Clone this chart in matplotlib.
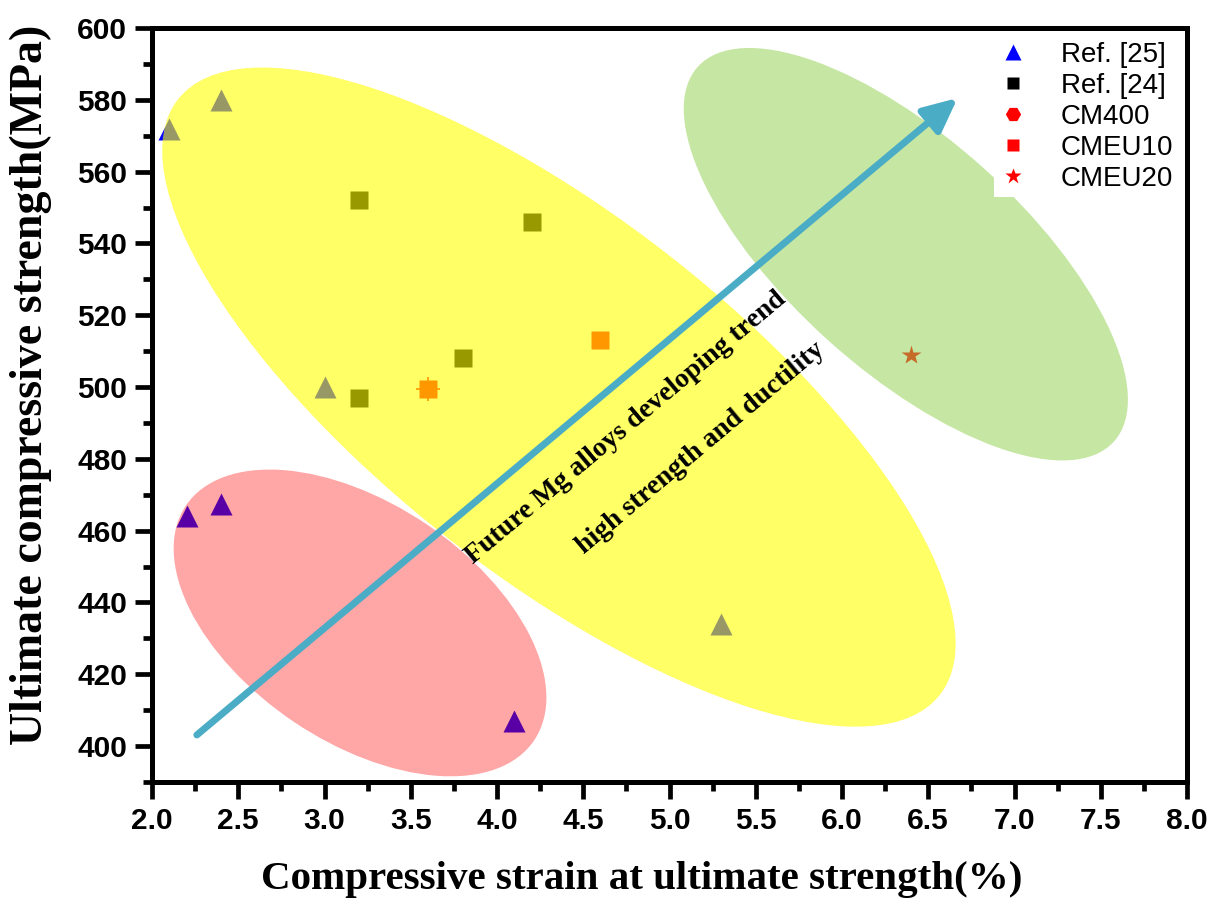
import matplotlib
matplotlib.use("Agg")
import matplotlib.pyplot as plt
from matplotlib.patches import Ellipse, FancyArrowPatch
from matplotlib.lines import Line2D
from matplotlib.transforms import IdentityTransform
from matplotlib.ticker import MultipleLocator

# ---- data ---------------------------------------------------------------
ref25_strain = [2.1, 2.4, 3.0, 5.3, 2.2, 2.4, 4.1]
ref25_ucs = [572, 580, 500, 434, 464, 467.5, 407]

ref24_strain = [3.2, 4.2, 3.8, 3.2]
ref24_ucs = [552, 546, 508, 497]

cm400_strain = [3.6]
cm400_ucs = [499.5]

cmeu10_strain = [4.6]
cmeu10_ucs = [513]

cmeu20_strain = [6.4]
cmeu20_ucs = [509]

xticks = [2.0, 2.5, 3.0, 3.5, 4.0, 4.5, 5.0, 5.5, 6.0, 6.5, 7.0, 7.5, 8.0]
yticks = [400, 420, 440, 460, 480, 500, 520, 540, 560, 580, 600]

# ---- figure ---------------------------------------------------------------
W, H, DPI = 1220, 899, 100
fig = plt.figure(figsize=(W / DPI, H / DPI), dpi=DPI)
ax = fig.add_axes([152 / W, 1 - 782 / H, (1187 - 152) / W, (782 - 28) / H])
ax.set_xlim(2.0, 8.0)
ax.set_ylim(390, 600)

sans = "Liberation Sans"
serif = "Liberation Serif"

# scatter points (drawn beneath the translucent group ellipses)
ax.plot(ref25_strain, ref25_ucs, ls="none", marker="^", ms=15.5, color="#0000FF",
        mec="none", zorder=2)
ax.plot(ref24_strain, ref24_ucs, ls="none", marker="s", ms=12.5, color="black",
        mec="none", zorder=2)
ax.plot(cm400_strain, cm400_ucs, ls="none", marker="s", ms=13, color="red",
        mec="none", zorder=2)
ax.plot(cm400_strain, cm400_ucs, ls="none", marker="+", ms=17, color="red",
        mew=1.2, zorder=2)
ax.plot(cmeu10_strain, cmeu10_ucs, ls="none", marker="s", ms=13, color="red",
        mec="none", zorder=2)
ax.plot(cmeu20_strain, cmeu20_ucs, ls="none", marker="*", ms=15, color="red",
        mec="none", zorder=2)

fig.canvas.draw()

# group ellipses: centre in data units, axes lengths in pixels, tilt in degrees
groups = [
    dict(center=(3.206, 434.3), width=420, height=238, angle=-34, color="#FF0000", alpha=0.35),
    dict(center=(4.359, 497.2), width=967, height=359, angle=-38, color="#FFFF00", alpha=0.6),
    dict(center=(6.37, 537.0), width=560, height=232, angle=-42, color="#92D050", alpha=0.52),
]
for g in groups:
    cx, cy = ax.transData.transform(g["center"])
    e = Ellipse((cx, cy), g["width"], g["height"], angle=g["angle"],
                transform=IdentityTransform(), facecolor=g["color"],
                edgecolor="none", alpha=g["alpha"], zorder=3)
    ax.add_artist(e)

# trend arrow
arrow = FancyArrowPatch((2.26, 403.1), (6.67, 580.5), transform=ax.transData,
                        arrowstyle="-|>,head_length=1.7,head_width=0.8",
                        mutation_scale=12, lw=5, color="#4BACC6", zorder=4,
                        shrinkA=0, shrinkB=0)
ax.add_patch(arrow)

ax.text(4.75, 488.6, "Future Mg alloys developing trend", rotation=40,
        rotation_mode="anchor", ha="center", va="center", family=serif,
        fontweight="bold", fontsize=20, zorder=5)
ax.text(5.18, 483.0, "high strength and ductility", rotation=40,
        rotation_mode="anchor", ha="center", va="center", family=serif,
        fontweight="bold", fontsize=20, zorder=5)

# axes styling
for sp in ax.spines.values():
    sp.set_linewidth(3.6)
    sp.set_color("black")
ax.set_xticks(xticks)
ax.set_yticks(yticks)
ax.xaxis.set_minor_locator(MultipleLocator(0.25))
ax.yaxis.set_minor_locator(MultipleLocator(10))
ax.tick_params(which="major", direction="out", length=12, width=3.4, pad=6,
               top=False, right=False)
ax.tick_params(which="minor", direction="out", length=6.5, width=3.4,
               top=False, right=False)
ax.set_xticklabels([f"{v:.1f}" for v in xticks])
ax.set_yticklabels([str(v) for v in yticks])
for lab in ax.get_xticklabels() + ax.get_yticklabels():
    lab.set_family(sans)
    lab.set_fontweight("bold")
    lab.set_fontsize(21.5)

ax.set_xlabel("Compressive strain at ultimate strength(%)", family=serif,
              fontweight="bold", fontsize=29.5, va="center")
ax.set_ylabel("Ultimate compressive strength(MPa)", family=serif,
              fontweight="bold", fontsize=33, va="center")
ax.xaxis.set_label_coords((642 - 152) / (1187 - 152), -(880 - 782) / (782 - 28))
ax.yaxis.set_label_coords(-(152 - 31) / (1187 - 152), (782 - 385) / (782 - 28))

# legend
handles = [
    Line2D([], [], ls="none", marker="^", ms=12, color="#0000FF", mec="none"),
    Line2D([], [], ls="none", marker="s", ms=8, color="black", mec="none"),
    Line2D([], [], ls="none", marker="H", ms=11, color="red", mec="none"),
    Line2D([], [], ls="none", marker="s", ms=8, color="red", mec="none"),
    Line2D([], [], ls="none", marker="*", ms=12, color="red", mec="none"),
]
labels = ["Ref. [25]", "Ref. [24]", "CM400", "CMEU10", "CMEU20"]
leg = ax.legend(handles, labels, loc="upper right", bbox_to_anchor=(1.0, 1.0),
                frameon=True, fancybox=False, framealpha=1, edgecolor="none",
                facecolor="white", prop=dict(family=sans, size=20),
                handlelength=1.0, handletextpad=1.2, labelspacing=0.18,
                borderpad=0.2, borderaxespad=0.3)
leg.set_zorder(6)

fig.savefig("out.png", dpi=DPI)
